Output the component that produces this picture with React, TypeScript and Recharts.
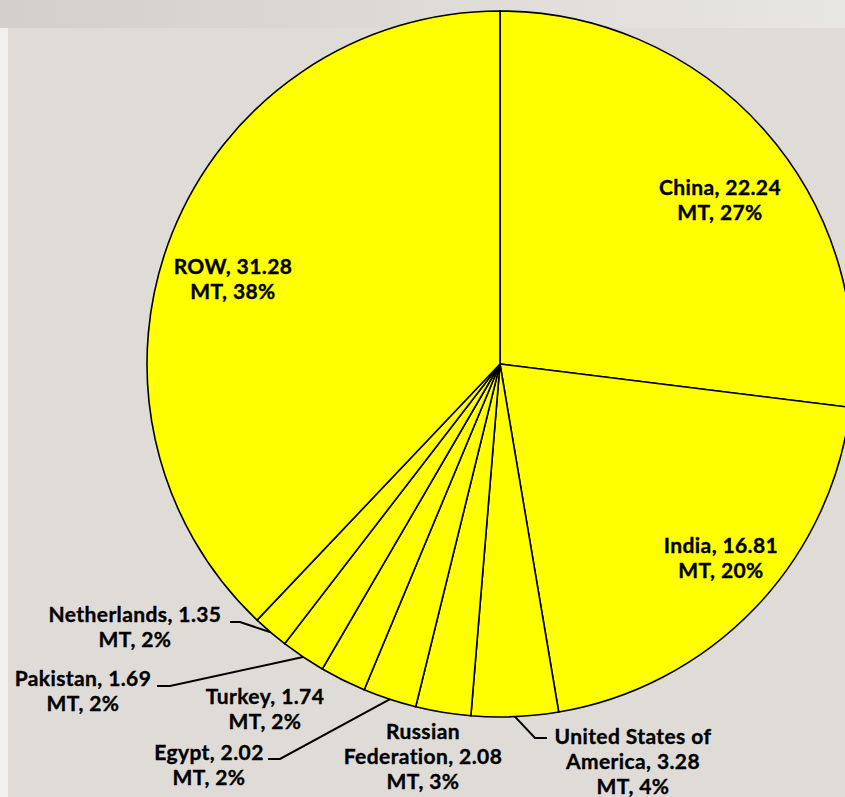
import { PieChart, Pie, Cell } from 'recharts'

const COUNTRIES = [
  'China',
  'India',
  'United States of America',
  'Russian Federation',
  'Egypt',
  'Turkey',
  'Pakistan',
  'Netherlands',
  'ROW',
]
const PRODUCTION_MT = [22.24, 16.81, 3.28, 2.08, 2.02, 1.74, 1.69, 1.35, 31.28]
// how each country name wraps in its label
const NAME_LINES = [
  ['China'],
  ['India'],
  ['United States of', 'America'],
  ['Russian', 'Federation'],
  ['Egypt'],
  ['Turkey'],
  ['Pakistan'],
  ['Netherlands'],
  ['ROW'],
]

const data = COUNTRIES.map((name, i) => ({ name, value: PRODUCTION_MT[i] }))

// label placement relative to pie centre (x = text centre, y = first line centre)
type LabelSpot = { dx: number; dy: number; leader?: { elbow: number; end: number; y: number } }
const LABEL_SPOTS: LabelSpot[] = [
  { dx: 220, dy: -176 },
  { dx: 221, dy: 182 },
  { dx: 133, dy: 373, leader: { elbow: 35, end: 47, y: 374 } },
  { dx: -77, dy: 368 },
  { dx: -291, dy: 389, leader: { elbow: -220, end: -232, y: 395 } },
  { dx: -235, dy: 333 },
  { dx: -417, dy: 315, leader: { elbow: -330, end: -343, y: 322 } },
  { dx: -365, dy: 251, leader: { elbow: -260, end: -270, y: 258 } },
  { dx: -267, dy: -97 },
]

const FONT = 'Lato, "Open Sans", sans-serif'
const LINE_H = 25
const RAD = Math.PI / 180

// eslint-disable-next-line @typescript-eslint/no-explicit-any
function renderLabel(props: any) {
  const { cx, cy, midAngle, outerRadius, percent, index, value } = props
  const spot = LABEL_SPOTS[index]
  const names = NAME_LINES[index]
  const lines = [
    ...names.slice(0, -1),
    `${names[names.length - 1]}, ${value.toFixed(2)}`,
    `MT, ${Math.round(percent * 100)}%`,
  ]
  const x = cx + spot.dx
  const y0 = cy + spot.dy

  let leader = null
  if (spot.leader) {
    const ex = cx + outerRadius * Math.cos(-midAngle * RAD)
    const ey = cy + outerRadius * Math.sin(-midAngle * RAD)
    const ly = cy + spot.leader.y
    leader = (
      <polyline
        points={`${ex},${ey} ${cx + spot.leader.elbow},${ly} ${cx + spot.leader.end},${ly}`}
        fill="none"
        stroke="#000"
        strokeWidth={2}
      />
    )
  }

  return (
    <g key={`lbl-${index}`}>
      {leader}
      <text
        x={x}
        y={y0}
        textAnchor="middle"
        fontFamily={FONT}
        fontWeight={700}
        fontSize={21}
        letterSpacing={0.4}
        stroke="#000"
        strokeWidth={0.35}
        fill="#000"
      >
        {lines.map((line, i) => (
          <tspan key={i} x={x} y={y0 + i * LINE_H + 7}>
            {line}
          </tspan>
        ))}
      </text>
    </g>
  )
}

export default function App() {
  return (
    <div
      style={{
        position: 'absolute',
        left: 0,
        top: 0,
        width: 845,
        height: 797,
        overflow: 'hidden',
        background: '#f1f0ed',
      }}
    >
      <div
        style={{
          position: 'absolute',
          left: 8,
          top: 0,
          width: 837,
          height: 797,
          background: '#dfdcd7',
        }}
      />
      <div
        style={{
          position: 'absolute',
          left: 0,
          top: 0,
          width: 845,
          height: 28,
          background: 'linear-gradient(to right, #d3cfcb, #e8e6e3)',
        }}
      />
      <div style={{ position: 'absolute', left: 0, top: 0 }}>
        <PieChart width={845} height={797} margin={{ top: 0, right: 0, bottom: 0, left: 0 }}>
          <Pie
            data={data}
            dataKey="value"
            nameKey="name"
            cx={500}
            cy={364}
            outerRadius={353}
            startAngle={90}
            endAngle={-270}
            stroke="#000"
            strokeWidth={1.6}
            label={renderLabel}
            labelLine={false}
            isAnimationActive={false}
          >
            {data.map(entry => (
              <Cell key={entry.name} fill="#ffff00" />
            ))}
          </Pie>
        </PieChart>
      </div>
    </div>
  )
}
